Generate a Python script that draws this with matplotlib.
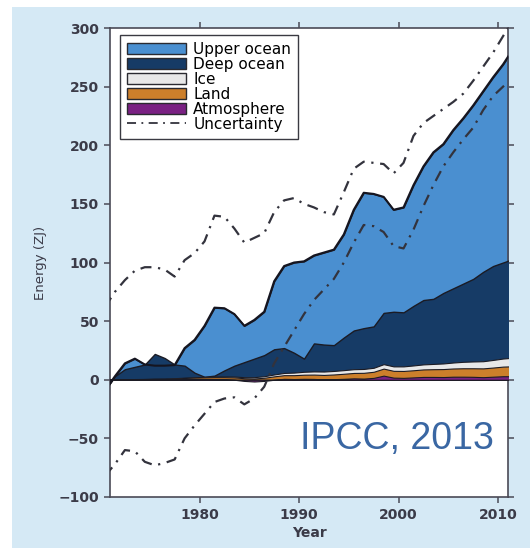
#!/usr/bin/env python
# -*- coding: utf-8 -*-

import numpy as np
import matplotlib
matplotlib.use('Agg')
import matplotlib.pyplot as plt
from matplotlib.patches import Rectangle, Patch
from matplotlib.lines import Line2D

# Annual means (ZJ) relative to 1971, plotted at mid-year
years = np.arange(1970, 2012) + 0.5

upper = [0, 0, 5, 7, 0, -10, -6.5, -0.5, 15, 28, 43.5, 58, 53, 44, 31, 33, 37, 58, 70, 77,
         83, 75, 78.5, 81.5, 88, 103, 115.5, 113, 99, 87, 89.5, 103, 114, 125, 127, 135,
         141, 148, 154, 161, 169, 179]
deep = [-9, 2.9, 8.7, 10.4, 12.3, 21.1, 17.5, 11.7, 10.2, 3.9, 0, 0.8, 5.2, 9.3, 12.8, 15.8,
        18.0, 21.5, 21.2, 16.9, 11.2, 23.9, 23.0, 22.0, 27.8, 33.0, 34.8, 35.3, 43.7, 46.6,
        46.1, 50.8, 54.9, 55.5, 60.1, 63.3, 66.7, 70.4, 76.2, 80.1, 81.9, 84.2]
ice = [0, 0, 0, 0.1, 0.1, 0.1, 0.2, 0.2, 0.3, 0.3, 0.4, 0.5, 0.6, 0.7, 0.9, 1.1, 1.3, 1.6,
       1.9, 2.2, 2.5, 2.7, 2.9, 3.0, 3.1, 3.2, 3.3, 3.4, 3.8, 3.8, 3.9, 4.1, 4.3, 4.5, 4.8,
       5.1, 5.5, 5.8, 6.1, 6.5, 6.9, 7.3]
land = [0, 0.1, 0.2, 0.3, 0.4, 0.5, 0.6, 0.8, 1.0, 1.2, 1.4, 1.6, 1.8, 2.0, 2.3, 2.6, 2.7,
        2.9, 3.1, 3.3, 3.5, 3.7, 3.8, 4.0, 4.3, 4.6, 4.9, 5.2, 6.0, 5.8, 5.9, 6.1, 6.4, 6.6,
        6.8, 7.0, 7.2, 7.3, 7.5, 7.8, 8.2, 8.5]
atmos = [0, 0, 0.1, 0.2, 0.2, 0.3, 0.2, 0.3, 0.5, 0.6, 0.7, 0.6, 0.4, 0, -1.0, -1.5, -1.0,
         0, 0.8, 0.6, 0.8, 0.7, 0.3, 0.5, 0.8, 1.2, 1.0, 1.6, 3.5, 1.8, 1.6, 2.0, 2.4, 2.4,
         2.3, 2.6, 2.6, 2.5, 2.2, 2.6, 3.0, 3.0]

# 90% confidence bounds on the total
unc_hi = [62, 75, 85, 93, 96, 96, 94, 88, 102, 108, 118, 140, 139, 129, 117, 121, 125, 143,
          153, 155, 150, 147, 143, 141, 160, 180, 186, 185, 184, 176, 185, 208, 219, 225,
          231, 237, 244, 255, 267, 279, 293, 307]
unc_lo = [-82, -72, -60, -61, -70, -73, -71, -68, -50, -39, -29, -19, -16, -15, -21, -16, -6,
          14, 28, 42, 56, 68, 77, 86, 100, 117, 132, 131, 126, 114, 112, 128, 148, 166, 182,
          194, 205, 215, 230, 242, 250, 258]

labels = ['Upper ocean', 'Deep ocean', 'Ice', 'Land', 'Atmosphere']
colors = ['#4a8fd0', '#163b66', '#e8e8e8', '#cc7f2b', '#7a2183']

if __name__ == '__main__':

	plt.rcParams['font.family'] = 'DejaVu Sans'
	fig = plt.figure(figsize=(5.3, 5.5), dpi=100, facecolor='white')
	fig.patches.append(Rectangle((12 / 530., 0.0036), 1 - 12 / 530., 0.9836,
		transform=fig.transFigure, facecolor='#d5e9f5', edgecolor='none', zorder=-10))
	ax = fig.add_axes([0.2075, 0.0964, 0.751, 0.8526])
	ax.set_facecolor('white')

	# Stack the components bottom-up, then paint each cumulative layer from zero
	layers = [np.array(atmos), np.array(land), np.array(ice), np.array(deep), np.array(upper)]
	cum = np.cumsum(layers, axis=0)
	order = [4, 3, 2, 1, 0]
	for n, i in enumerate(order):
		ax.fill_between(years, 0, cum[i], facecolor=colors[n],
			edgecolor='#1b1b24', linewidth=0.8 if i < 3 else 1.0, zorder=2 + n)
	ax.plot(years, cum[4], color='#151520', linewidth=1.5, zorder=8)

	dash = (0, (5, 3, 1, 3))
	ax.plot(years, unc_hi, color='#33333d', linewidth=1.6, linestyle=dash, zorder=9)
	ax.plot(years, unc_lo, color='#33333d', linewidth=1.6, linestyle=dash, zorder=9)

	ax.set_xlim(1971, 2011)
	ax.set_ylim(-100, 300)
	ax.set_xticks([1980, 1990, 2000, 2010])
	ax.set_yticks(range(-100, 301, 50))
	ax.set_yticklabels([str(v).replace('-', '\u2212') for v in range(-100, 301, 50)])

	axis_color = '#4a4a56'
	text_color = '#3b3b48'
	for side in ['left', 'right', 'top', 'bottom']:
		ax.spines[side].set_color(axis_color)
		ax.spines[side].set_linewidth(1.2)
	ax.tick_params(axis='both', which='both', direction='out', length=4.5, width=1.1,
		color=axis_color, labelcolor=text_color, labelsize=10,
		top=True, right=True, labeltop=False, labelright=False)
	for lab in ax.get_xticklabels() + ax.get_yticklabels():
		lab.set_fontweight('bold')

	ax.set_ylabel('Energy (ZJ)', fontsize=9.5, color=text_color, labelpad=8)
	ax.set_xlabel('Year', fontsize=10, fontweight='bold', color=text_color, labelpad=3)

	handles = [Patch(facecolor=c, edgecolor='#2a2a30', linewidth=1.0) for c in colors]
	handles.append(Line2D([0], [0], color='#33333d', linewidth=1.3, linestyle=dash))
	leg = ax.legend(handles, labels + ['Uncertainty'], loc='upper left',
		bbox_to_anchor=(0.025, 0.985), borderaxespad=0, fontsize=11,
		labelspacing=0.0, handlelength=3.9, handleheight=0.75, handletextpad=0.45,
		borderpad=0.45, fancybox=False, framealpha=1, edgecolor='#3a3a42')
	leg.get_frame().set_linewidth(1.0)
	leg.set_zorder(20)

	ax.text(0.965, 0.085, 'IPCC, 2013', transform=ax.transAxes, ha='right', va='bottom',
		fontsize=27, color='#3a67a3', family='Liberation Sans', zorder=21)

	plt.savefig('out.png', dpi=100, facecolor=fig.get_facecolor())
